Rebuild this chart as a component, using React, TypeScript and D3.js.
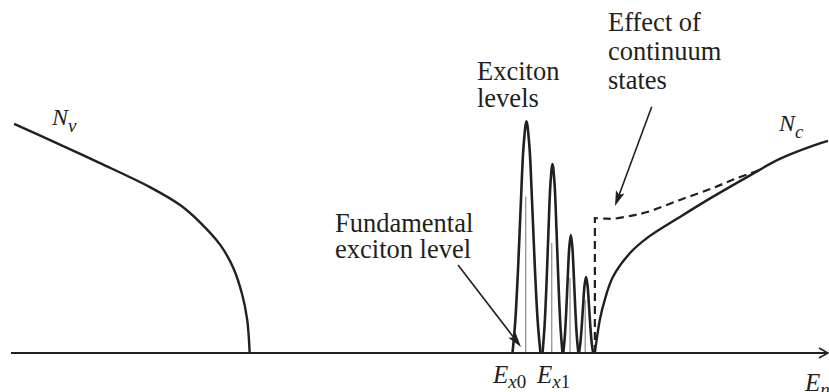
import React from "react";
import * as d3 from "d3";

// Energy axis (arbitrary units) and density of states (arbitrary units)
const NV_POINTS: [number, number][] = [
  [0.5, 98.3], [4.9, 91.4], [11.0, 81.5], [17.1, 71.2], [20.8, 63.5], [23.2, 56.2],
  [25.7, 46.4], [27.3, 36.5], [28.4, 24.9], [29.0, 14.2], [29.3, 0],
];
const NC_POINTS: [number, number][] = [
  [71.5, 0], [71.8, 7.7], [72.1, 14.2], [72.7, 22.7], [73.7, 32.6], [75.8, 42.9],
  [77.9, 49.4], [81.9, 58.4], [85.9, 67.0], [90.1, 75.5], [94.1, 83.3], [98.2, 89.0], [100, 91.0],
];
const CONTINUUM_POINTS: [number, number][] = [
  [71.5, 57.9], [72.7, 57.7], [73.7, 57.6], [75.8, 58.8], [77.9, 60.5], [81.9, 65.7],
  [85.9, 70.8], [88.9, 75.1], [91.7, 78.5],
];
const CONTINUUM_EDGE = 71.5;
const PEAK_CENTERS = [63.14, 66.32, 68.56, 70.42];
const PEAK_HEIGHTS = [99.4, 81.1, 50.6, 32.6];
const PEAK_HALF_WIDTHS = [1.71, 1.22, 0.92, 0.86];
const LEVEL_HEIGHTS = [67.1, 47.2, 32.2, 22.7];
// normalized line shape of an exciton peak (offset / half-width, relative height)
const PEAK_PROFILE: [number, number][] = [
  [-1, 0], [-0.8, 0.139], [-0.6, 0.367], [-0.4, 0.652], [-0.2, 0.9], [0, 1],
  [0.2, 0.9], [0.4, 0.652], [0.6, 0.367], [0.8, 0.139], [1, 0],
];
// annotation arrows [from, to] in data units
const ARROW_FUNDAMENTAL: [number, number][] = [[54.77, 37.8], [62.47, 2.6]];
const ARROW_CONTINUUM: [number, number][] = [[78.45, 105.7], [73.96, 63.1]];

const W = 829;
const H = 392;
const INK = "#231f20";
const FONT = "Liberation Serif, DejaVu Serif, Times New Roman, serif";

export default function App() {
  const x = d3.scaleLinear().domain([0, 100]).range([10, 828]);
  const y = d3.scaleLinear().domain([0, 100]).range([353, 120]);
  const line = d3
    .line<[number, number]>()
    .x((d) => x(d[0]))
    .y((d) => y(d[1]))
    .curve(d3.curveCatmullRom.alpha(0.5));

  const nvPath = line(NV_POINTS) || "";
  const ncPath = line(NC_POINTS) || "";
  const contCurve = line(CONTINUUM_POINTS) || "";
  const dashedPath = `M${x(CONTINUUM_EDGE)},${y(0)}L` + contCurve.slice(1);

  const peakPaths = PEAK_CENTERS.map((c, i) =>
    line(
      PEAK_PROFILE.map(([u, f]) => [c + u * PEAK_HALF_WIDTHS[i], f * PEAK_HEIGHTS[i]] as [number, number])
    ) || ""
  );

  const arrow = (pts: [number, number][], key: string) => {
    const [x0, y0] = [x(pts[0][0]), y(pts[0][1])];
    const [x1, y1] = [x(pts[1][0]), y(pts[1][1])];
    const dx = x1 - x0;
    const dy = y1 - y0;
    const len = Math.hypot(dx, dy);
    const ux = dx / len;
    const uy = dy / len;
    const hl = 15;
    const hw = 4.5;
    const bx = x1 - ux * hl;
    const by = y1 - uy * hl;
    const p = `${x1},${y1} ${bx - uy * hw},${by + ux * hw} ${bx + ux * 3},${by + uy * 3} ${bx + uy * hw},${by - ux * hw}`;
    return (
      <g key={key}>
        <line x1={x0} y1={y0} x2={bx + ux * 4} y2={by + uy * 4} stroke={INK} strokeWidth={1.6} />
        <polygon points={p} fill={INK} />
      </g>
    );
  };

  const axisEnd = 828;
  const axisY = y(0);
  const textStyle = { fontFamily: FONT };

  return (
    <svg
      width={W}
      height={H}
      viewBox={`0 0 ${W} ${H}`}
      style={{ position: "absolute", left: 0, top: 0, background: "#fff" }}
    >
      <rect width={W} height={H} fill="#fff" />
      {/* level markers */}
      {PEAK_CENTERS.map((c, i) => (
        <line key={"lv" + i} x1={x(c) - 0.8} x2={x(c) - 0.8} y1={axisY} y2={y(LEVEL_HEIGHTS[i])} stroke="#9a9a9a" strokeWidth={1.4} />
      ))}
      {/* axis */}
      <line x1={11} x2={axisEnd} y1={axisY} y2={axisY} stroke={INK} strokeWidth={2} />
      <path d={`M${axisEnd - 9},${axisY - 5}L${axisEnd},${axisY}L${axisEnd - 9},${axisY + 5}`} fill="none" stroke={INK} strokeWidth={1.6} />
      {/* curves */}
      <path d={nvPath} fill="none" stroke={INK} strokeWidth={2.4} />
      <path d={ncPath} fill="none" stroke={INK} strokeWidth={2.4} />
      <path d={dashedPath} fill="none" stroke={INK} strokeWidth={2.2} strokeDasharray="8,5" />
      {peakPaths.map((d, i) => (
        <path key={"pk" + i} d={d} fill="none" stroke={INK} strokeWidth={2.6} strokeLinejoin="round" />
      ))}
      {arrow(ARROW_FUNDAMENTAL, "a1")}
      {arrow(ARROW_CONTINUUM, "a2")}
      {/* labels */}
      <g style={textStyle} fill={INK} fontSize={26.5}>
        <text x={477} y={80}>Exciton</text>
        <text x={477} y={107}>levels</text>
        <text x={608} y={31}>Effect of</text>
        <text x={608} y={60}>continuum</text>
        <text x={608} y={89}>states</text>
        <text x={335} y={232}>Fundamental</text>
        <text x={335} y={258}>exciton level</text>
      </g>
      <g style={textStyle} fill={INK} fontStyle="italic">
        <text x={52} y={125} fontSize={24}>
          N<tspan fontSize={19} dy={7}>v</tspan>
        </text>
        <text x={779} y={131} fontSize={24}>
          N<tspan fontSize={19} dy={7}>c</tspan>
        </text>
        <text x={493} y={383} fontSize={25}>
          E<tspan fontSize={19} dy={5}>x</tspan><tspan fontSize={19} fontStyle="normal">0</tspan>
        </text>
        <text x={537} y={383} fontSize={25}>
          E<tspan fontSize={19} dy={5}>x</tspan><tspan fontSize={19} fontStyle="normal">1</tspan>
        </text>
        <text x={805} y={391} fontSize={25}>
          E<tspan fontSize={19} dy={5}>n</tspan>
        </text>
      </g>
    </svg>
  );
}
